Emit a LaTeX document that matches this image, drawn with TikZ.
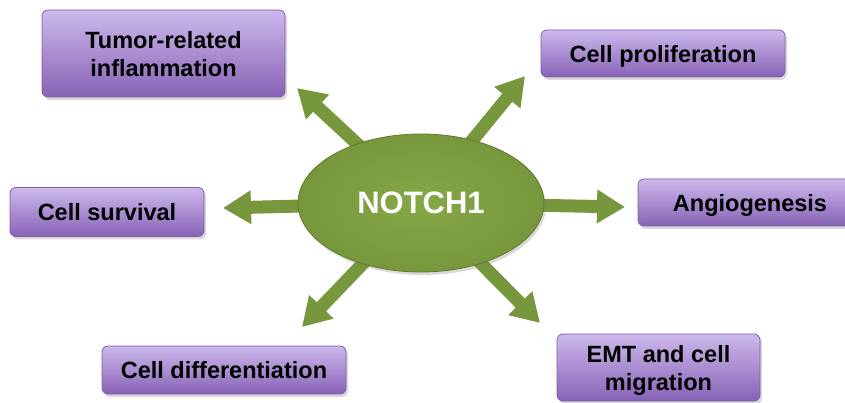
\documentclass[tikz,border=0pt]{standalone}
\usepackage{fontspec}
\setmainfont{Liberation Sans}
\usetikzlibrary{shapes.geometric,arrows.meta,shadows}
\definecolor{boxtop}{HTML}{CDB9EC}
\definecolor{boxbot}{HTML}{8762B6}
\definecolor{boxline}{HTML}{7C5DA8}
\definecolor{grn}{HTML}{77973C}
\definecolor{grnlight}{HTML}{86A847}
\definecolor{grndark}{HTML}{5F7A2E}
\pgfdeclarelayer{bg}
\pgfsetlayers{bg,main}
\begin{document}
\begin{tikzpicture}[x=1pt,y=-1pt,
 box/.style={draw=boxline, line width=0.8pt, rounded corners=6pt, top color=boxtop, bottom color=boxbot,
   drop shadow={opacity=0.3,shadow xshift=2pt,shadow yshift=-3pt}, inner sep=0pt,
   font=\fontsize{23.5}{28}\selectfont\bfseries, align=center, text=black, text depth=0pt},
 arr/.style={draw=grn, line width=13pt, -{Triangle[width=32pt,length=28pt]}},
]
\useasboundingbox (0,0) rectangle (845,403);
\node[box, minimum width=243pt, minimum height=87pt] (tumor) at (163.5,53.5) {Tumor-related\\inflammation};
\node[box, minimum width=244pt, minimum height=47pt] (prolif) at (663,53.5) {Cell proliferation};
\node[box, minimum width=224pt, minimum height=47pt] (angio) at (750,202.5) {Angiogenesis};
\node[box, minimum width=194pt, minimum height=49pt] (surv) at (107,212) {Cell survival};
\node[box, minimum width=244pt, minimum height=48pt] (diff) at (224,370) {Cell differentiation};
\node[box, minimum width=203pt, minimum height=67pt] (emt) at (658.5,367.5) {EMT and cell\\migration};

\node[ellipse, minimum width=246pt, minimum height=138pt, inner sep=0pt,
  inner color=grnlight, outer color=grn, draw=grndark, line width=0.8pt,
  drop shadow={opacity=0.3,shadow xshift=2pt,shadow yshift=-3pt},
  font=\fontsize{31}{36}\selectfont\bfseries, text=white] (notch) at (421,203) {NOTCH1};

\coordinate (tUL) at (297,88);
\coordinate (tUR) at (525,76);
\coordinate (tL) at (223,208);
\coordinate (tR) at (625,207);
\coordinate (tLL) at (302,327);
\coordinate (tLR) at (540,323);

\begin{pgfonlayer}{bg}
\foreach \t in {tUL,tUR,tL,tR,tLL,tLR}
  \draw[arr] (notch.center) -- (\t);
\end{pgfonlayer}
\end{tikzpicture}
\end{document}
